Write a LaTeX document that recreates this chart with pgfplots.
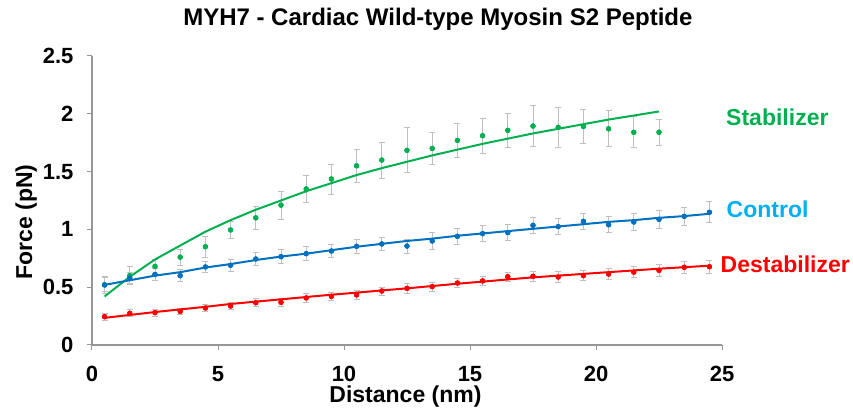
\documentclass[border=0pt]{standalone}
\usepackage{fontspec}
\setmainfont{Liberation Sans}
\usepackage{pgfplots}
\pgfplotsset{compat=1.18}
\usepackage{pgfplotstable}

\definecolor{stabgreen}{RGB}{0,176,80}
\definecolor{ctrlblue}{RGB}{0,112,192}
\definecolor{ctrllabel}{RGB}{0,176,240}
\definecolor{destred}{RGB}{255,0,0}
\definecolor{errgray}{RGB}{191,191,191}
\definecolor{axisgray}{RGB}{150,150,150}

% measured force: distance, mean, error
\pgfplotstableread{
x y e
0.5 0.52 0.075
1.5 0.60 0.08
2.5 0.68 0.06
3.5 0.76 0.07
4.5 0.85 0.09
5.5 0.995 0.07
6.5 1.10 0.10
7.5 1.21 0.12
8.5 1.35 0.12
9.5 1.436 0.13
10.5 1.55 0.145
11.5 1.60 0.155
12.5 1.684 0.195
13.5 1.70 0.14
14.5 1.77 0.147
15.5 1.81 0.15
16.5 1.857 0.15
17.5 1.894 0.18
18.5 1.883 0.17
19.5 1.89 0.15
20.5 1.87 0.156
21.5 1.84 0.134
22.5 1.84 0.11
}\stabdata

\pgfplotstableread{
x y e
0.5 0.52 0.06
1.5 0.58 0.05
2.5 0.61 0.05
3.5 0.60 0.05
4.5 0.675 0.05
5.5 0.69 0.05
6.5 0.744 0.06
7.5 0.764 0.06
8.5 0.79 0.06
9.5 0.813 0.06
10.5 0.854 0.06
11.5 0.874 0.06
12.5 0.856 0.06
13.5 0.90 0.07
14.5 0.94 0.07
15.5 0.963 0.07
16.5 0.972 0.07
17.5 1.035 0.07
18.5 1.024 0.07
19.5 1.07 0.07
20.5 1.04 0.07
21.5 1.064 0.075
22.5 1.087 0.075
23.5 1.113 0.078
24.5 1.148 0.09
}\ctrldata

\pgfplotstableread{
x y e
0.5 0.245 0.03
1.5 0.274 0.03
2.5 0.28 0.03
3.5 0.29 0.03
4.5 0.32 0.03
5.5 0.337 0.03
6.5 0.366 0.035
7.5 0.369 0.035
8.5 0.407 0.035
9.5 0.421 0.035
10.5 0.433 0.035
11.5 0.467 0.035
12.5 0.49 0.04
13.5 0.505 0.04
14.5 0.536 0.04
15.5 0.554 0.04
16.5 0.591 0.04
17.5 0.594 0.04
18.5 0.588 0.045
19.5 0.60 0.045
20.5 0.614 0.045
21.5 0.63 0.05
22.5 0.646 0.05
23.5 0.672 0.05
24.5 0.677 0.058
}\destdata

% fitted curves
\pgfplotstableread{
x y
0.5 0.42
1.5 0.59
2.5 0.74
3.5 0.86
4.5 0.98
5.5 1.08
6.5 1.17
7.5 1.25
8.5 1.33
9.5 1.40
10.5 1.47
11.5 1.53
12.5 1.585
13.5 1.64
14.5 1.69
15.5 1.74
16.5 1.785
17.5 1.83
18.5 1.87
19.5 1.91
20.5 1.95
21.5 1.985
22.5 2.02
}\stabfit

\pgfplotstableread{
x y
0.5 0.52
1.5 0.56
2.5 0.60
3.5 0.63
4.5 0.67
5.5 0.70
6.5 0.735
7.5 0.765
8.5 0.79
9.5 0.82
10.5 0.85
11.5 0.875
12.5 0.90
13.5 0.92
14.5 0.945
15.5 0.965
16.5 0.985
17.5 1.005
18.5 1.025
19.5 1.045
20.5 1.065
21.5 1.08
22.5 1.10
23.5 1.115
24.5 1.135
}\ctrlfit

\pgfplotstableread{
x y
0.5 0.235
1.5 0.26
2.5 0.285
3.5 0.308
4.5 0.33
5.5 0.355
6.5 0.375
7.5 0.395
8.5 0.415
9.5 0.435
10.5 0.453
11.5 0.472
12.5 0.49
13.5 0.51
14.5 0.53
15.5 0.548
16.5 0.567
17.5 0.585
18.5 0.60
19.5 0.615
20.5 0.63
21.5 0.645
22.5 0.66
23.5 0.673
24.5 0.686
}\destfit

\pgfplotsset{
  errpts/.style={only marks, mark=*, mark size=2.4pt,
    mark options={fill=#1, draw=#1},
    error bars/.cd, y dir=both, y explicit,
    error bar style={color=errgray, line width=0.9pt},
    error mark options={rotate=90, mark size=3pt, color=errgray, line width=0.9pt}},
  pts/.style={only marks, mark=*, mark size=2.4pt, mark options={fill=#1, draw=#1}},
  fit/.style={no marks, line width=2pt, color=#1},
}

\begin{document}
\begin{tikzpicture}
\begin{axis}[
  scale only axis, width=630pt, height=289pt,
  xmin=0, xmax=25, ymin=0, ymax=2.5,
  axis x line=bottom, axis y line=left,
  axis line style={-, draw=axisgray, line width=1.2pt},
  xtick={0,5,...,25}, ytick={0,0.5,...,2.5},
  tick align=outside, major tick length=5pt,
  tick style={axisgray, line width=1pt},
  ticklabel style={font=\bfseries\fontsize{22}{22}\selectfont},
  xticklabel style={yshift=-13pt},
  yticklabel style={xshift=-10pt},
  /pgf/number format/assume math mode=true,
  clip=false,
]
\addplot[errpts=stabgreen] table[x=x, y=y, y error=e] {\stabdata};
\addplot[errpts=ctrlblue] table[x=x, y=y, y error=e] {\ctrldata};
\addplot[errpts=destred] table[x=x, y=y, y error=e] {\destdata};

\addplot[fit=stabgreen] table[x=x, y=y] {\stabfit};
\addplot[fit=ctrlblue] table[x=x, y=y] {\ctrlfit};
\addplot[fit=destred] table[x=x, y=y] {\destfit};

\addplot[pts=stabgreen] table[x=x, y=y] {\stabdata};
\addplot[pts=ctrlblue] table[x=x, y=y] {\ctrldata};
\addplot[pts=destred] table[x=x, y=y] {\destdata};

\node[anchor=base, font=\bfseries\fontsize{24}{24}\selectfont]
  at (rel axis cs:0.549,1.1038) {MYH7 - Cardiac Wild-type Myosin S2 Peptide};
\node[anchor=base, font=\bfseries\fontsize{23}{23}\selectfont]
  at (rel axis cs:0.4976,-0.2007) {Distance (nm)};
\node[anchor=base, rotate=90, font=\bfseries\fontsize{23}{23}\selectfont]
  at (rel axis cs:-0.0952,0.4256) {Force (pN)};

\node[anchor=base west, inner sep=0pt, text=stabgreen, font=\bfseries\fontsize{23}{23}\selectfont]
  at (axis cs:25.16,1.903) {Stabilizer};
\node[anchor=base west, inner sep=0pt, text=ctrllabel, font=\bfseries\fontsize{23}{23}\selectfont]
  at (axis cs:25.18,1.101) {Control};
\node[anchor=base west, inner sep=0pt, text=destred, font=\bfseries\fontsize{23}{23}\selectfont]
  at (axis cs:24.94,0.625) {Destabilizer};
\end{axis}
\pgfresetboundingbox
\path[use as bounding box]
  ([shift={(-92pt,-68pt)}]current axis.south west) rectangle
  ([shift={(131pt,56pt)}]current axis.north east);
\end{tikzpicture}
\end{document}
